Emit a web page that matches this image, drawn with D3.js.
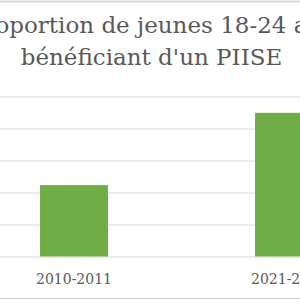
<!DOCTYPE html>
<html>
<head>
<meta charset="utf-8">
<script src="https://cdn.jsdelivr.net/npm/d3@7"></script>
<style>
  body { margin: 0; background: #fff; }
  svg { display: block; }
  .title { font-family: 'DejaVu Serif', serif; font-size: 23px; fill: #595959; }
  .tick-label { font-family: 'DejaVu Serif', serif; font-size: 14px; fill: #595959; }
</style>
</head>
<body>
<svg width="300" height="300"></svg>
<script>
const categories = ['2010-2011', '2021-2022']
const values = [2.23, 4.49]
const yTicks = [0, 1, 2, 3, 4, 5]
const titleLines = ['Proportion de jeunes 18-24 ans', "bénéficiant d'un PIISE"]

const svg = d3.select('svg')
const width = +svg.attr('width')
const height = +svg.attr('height')

// the view is a crop of a wider chart: plot runs past both edges
const plotTop = 96.5
const plotBottom = 256.5

const xScale = d3.scaleBand()
  .domain(categories)
  .range([-33.5, 396.5])
  .paddingInner(0.684)
  .paddingOuter(0.342)

const yScale = d3.scaleLinear()
  .domain([0, 5])
  .range([plotBottom, plotTop])

// chart frame edges
svg.append('line')
  .attr('x1', 0).attr('x2', width)
  .attr('y1', 1.5).attr('y2', 1.5)
  .attr('stroke', '#d9d9d9')
  .attr('stroke-width', 2)

svg.append('line')
  .attr('x1', 0).attr('x2', width)
  .attr('y1', 298.5).attr('y2', 298.5)
  .attr('stroke', '#d9d9d9')
  .attr('stroke-width', 1.5)

// gridlines
const yAxis = d3.axisLeft(yScale)
  .tickValues(yTicks)
  .tickSize(-width - 20)
  .tickFormat('')

const yAxisGroup = svg.append('g')
  .attr('transform', 'translate(-10, 0)')
  .call(yAxis)

yAxisGroup.select('.domain').remove()
yAxisGroup.selectAll('.tick line')
  .attr('stroke', '#d9d9d9')
  .attr('stroke-width', 1.2)

// bars
svg.append('g').selectAll('rect')
  .data(values)
  .join('rect')
  .attr('x', (d, i) => xScale(categories[i]))
  .attr('y', d => yScale(d))
  .attr('width', xScale.bandwidth())
  .attr('height', d => yScale(0) - yScale(d))
  .attr('fill', '#70ad47')

// x axis labels
const xAxis = d3.axisBottom(xScale)
  .tickSize(0)
  .tickPadding(0)

const xAxisGroup = svg.append('g')
  .attr('transform', `translate(0, ${plotBottom})`)
  .call(xAxis)

xAxisGroup.select('.domain').remove()
xAxisGroup.selectAll('.tick text')
  .attr('class', 'tick-label')
  .attr('dy', null)
  .attr('y', 27)
  .attr('font-family', null)
  .attr('font-size', null)
  .attr('fill', null)

xAxisGroup.attr('font-family', null).attr('font-size', null)

// title
svg.append('g').selectAll('text')
  .data(titleLines)
  .join('text')
  .attr('class', 'title')
  .attr('x', 151.5)
  .attr('y', (d, i) => 33 + i * 32)
  .attr('text-anchor', 'middle')
  .text(d => d)
</script>
</body>
</html>
